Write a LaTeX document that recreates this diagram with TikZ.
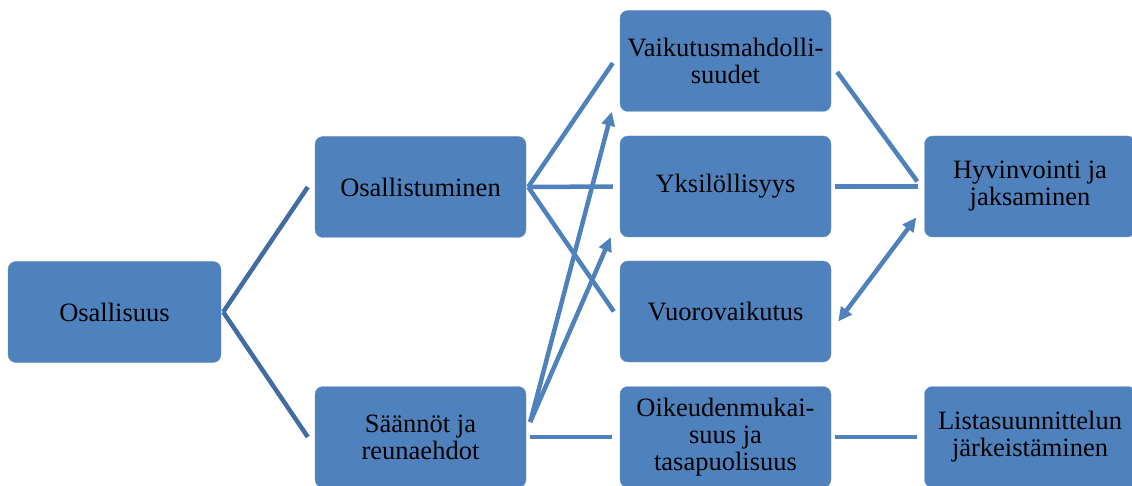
\documentclass[tikz,border=0pt]{standalone}
\usepackage{fontspec}
\setmainfont{Liberation Serif}
\usepackage{tikz}
\usetikzlibrary{arrows.meta,positioning}

\definecolor{boxblue}{RGB}{79,129,189}
\definecolor{linkblue}{RGB}{79,129,189}
\definecolor{linkdark}{RGB}{66,108,162}

\begin{document}
\begin{tikzpicture}[x=1pt, y=-1pt]
			\tikzstyle{Box}		= [rectangle, rounded corners=8pt, fill=boxblue, draw=boxblue!85!white, minimum width=211pt, minimum height=101pt, inner sep=0pt, align=center, font=\fontsize{26.5}{27}\selectfont]
			\tikzstyle{Link}	= [line width=4.5pt, linkblue]
			\tikzstyle{Dark}	= [line width=4.5pt, linkdark]
			\tikzstyle{Head}	= [-{Triangle[length=14pt,width=13pt]}]
			\tikzstyle{Both}	= [{Triangle[length=14pt,width=13pt]}-{Triangle[length=14pt,width=13pt]}]

			\useasboundingbox (0,0) rectangle (1132,486);

			\node (osallisuus) at (114.5, 312) [Box, minimum width=213pt] {Osallisuus};
			\node (osallistuminen) at (420.5, 187) [Box] {Osallistuminen};
			\node (saannot) at (420.5, 437) [Box] {Säännöt ja\\reunaehdot};
			\node (vaikutus) at (725.5, 61) [Box] {Vaikutusmahdolli-\\suudet};
			\node (yksilollisyys) at (725.5, 186.5) [Box] {Yksilöllisyys};
			\node (vuorovaikutus) at (725.5, 311.5) [Box] {Vuorovaikutus};
			\node (oikeus) at (725.5, 437) [Box] {Oikeudenmukai-\\suus ja\\tasapuolisuus};
			\node (hyvinvointi) at (1030, 186.5) [Box] {Hyvinvointi ja\\jaksaminen};
			\node (lista) at (1030, 437) [Box] {Listasuunnittelun\\järkeistäminen};

			\draw [-] ([xshift=2pt]osallisuus.east) to ([xshift=-7pt]osallistuminen.west) [Dark];
			\draw [-] ([xshift=2pt]osallisuus.east) to ([xshift=-7pt]saannot.west) [Dark];

			\draw [-] ([xshift=2pt]osallistuminen.east) to ([shift={(-7pt,-2pt)}]vaikutus.west) [Link];
			\draw [-] ([xshift=2pt]osallistuminen.east) to ([xshift=-7pt]yksilollisyys.west) [Link];
			\draw [-] ([xshift=2pt]osallistuminen.east) to ([xshift=-6pt]vuorovaikutus.west) [Link];

			\draw ([shift={(4pt,15pt)}]saannot.east) to ([xshift=-8pt]vaikutus.south west) [Link, Head];
			\draw ([shift={(4pt,15pt)}]saannot.east) to ([xshift=-9pt]yksilollisyys.south west) [Link, Head];
			\draw [-] ([xshift=4pt]saannot.east) to ([xshift=-8pt]oikeus.west) [Link];

			\draw [-] ([shift={(6pt,-11pt)}]vaikutus.east) to ([shift={(-7pt,5pt)}]hyvinvointi.west) [Link];
			\draw [-] ([xshift=4pt]yksilollisyys.east) to ([xshift=-6pt]hyvinvointi.west) [Link];
			\draw ([shift={(7pt,-10pt)}]vuorovaikutus.east) to ([shift={(-8pt,-31pt)}]hyvinvointi.west) [Link, Both];
			\draw [-] ([xshift=4pt]oikeus.east) to ([xshift=-7pt]lista.west) [Link];
\end{tikzpicture}
\end{document}
